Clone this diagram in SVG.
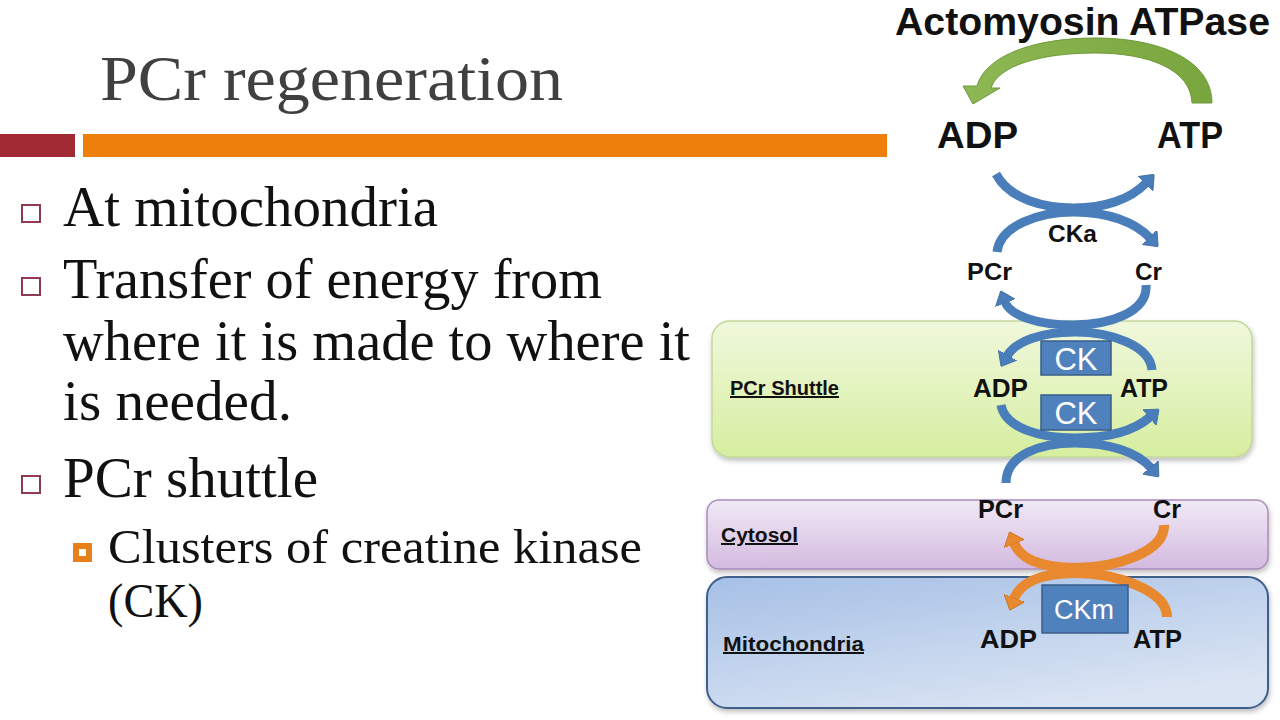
<svg xmlns="http://www.w3.org/2000/svg" width="1280" height="720" viewBox="0 0 1280 720">
<defs>
<style>
.title{font-family:"Liberation Serif","Times New Roman",serif;font-size:64px;fill:#404040}
.body{font-family:"Liberation Serif","Times New Roman",serif;font-size:56px;fill:#111}
.sub{font-family:"Liberation Serif","Times New Roman",serif;font-size:49px;fill:#111}
.lbl{font-family:"Liberation Sans",Arial,sans-serif;font-weight:bold;fill:#111}
.zone{font-family:"Liberation Sans",Arial,sans-serif;font-weight:bold;font-size:20px;fill:#111;text-decoration:underline}
.ck{font-family:"Liberation Sans",Arial,sans-serif;fill:#fff;text-anchor:middle}
.ckbox{fill:#4F81BD;stroke:#385D8A;stroke-width:1.5}
.blue{fill:none;stroke:#4A7EBB;stroke-width:9}
.orange{fill:none;stroke:#E8892F;stroke-width:10}
.bul{fill:#fff;stroke:#8E3B50;stroke-width:2}
</style>
<linearGradient id="gGreen" x1="0" y1="0" x2="0" y2="1"><stop offset="0" stop-color="#F0F8DC"/><stop offset="1" stop-color="#D6EEA0"/></linearGradient>
<linearGradient id="gPurple" x1="0" y1="0" x2="0" y2="1"><stop offset="0" stop-color="#F1E9F5"/><stop offset="1" stop-color="#D3BAE0"/></linearGradient>
<linearGradient id="gBlue" x1="0" y1="0" x2="0.6" y2="1"><stop offset="0" stop-color="#A6C0E6"/><stop offset="1" stop-color="#DAE4F3"/></linearGradient>
<linearGradient id="gArrow" x1="0" y1="0" x2="1" y2="0"><stop offset="0" stop-color="#8DB853"/><stop offset="1" stop-color="#79A53E"/></linearGradient>
<filter id="sh" x="-5%" y="-10%" width="110%" height="130%"><feDropShadow dx="1" dy="3" stdDeviation="2.5" flood-color="#000" flood-opacity="0.25"/></filter>
<marker id="mb" viewBox="0 0 13 21" refX="1" refY="10.5" markerWidth="13" markerHeight="21" markerUnits="userSpaceOnUse" orient="auto"><path d="M0,0 L13,10.5 L0,21 Z" fill="#4A7EBB" stroke="#3B6AA0" stroke-width="0.8"/></marker>
<marker id="mo" viewBox="0 0 13 22" refX="1" refY="11" markerWidth="13" markerHeight="22" markerUnits="userSpaceOnUse" orient="auto"><path d="M0,0 L13,11 L0,22 Z" fill="#E8892F" stroke="#C8721F" stroke-width="0.8"/></marker>
</defs>
<rect width="1280" height="720" fill="#fff"/>

<g id="title">
<text class="title" x="100" y="100" textLength="463" lengthAdjust="spacingAndGlyphs">PCr regeneration</text>
<rect x="0" y="134" width="75" height="23" fill="#A12A35"/>
<rect x="83" y="134" width="804" height="23" fill="#EF7F0B"/>
</g>

<g id="bullets">
<rect class="bul" x="22" y="205" width="18" height="17"/>
<text class="body" x="63" y="226" textLength="375" lengthAdjust="spacingAndGlyphs">At mitochondria</text>
<rect class="bul" x="22" y="278" width="18" height="17"/>
<text class="body" x="63" y="298" textLength="539" lengthAdjust="spacingAndGlyphs">Transfer of energy from</text>
<text class="body" x="63" y="360" textLength="627" lengthAdjust="spacingAndGlyphs">where it is made to where it</text>
<text class="body" x="63" y="420" textLength="229" lengthAdjust="spacingAndGlyphs">is needed.</text>
<rect class="bul" x="22" y="476" width="18" height="17"/>
<text class="body" x="63" y="497" textLength="255" lengthAdjust="spacingAndGlyphs">PCr shuttle</text>
<rect x="73" y="543" width="19" height="19" fill="#E8801A"/>
<rect x="79" y="549" width="7" height="7" fill="#fff"/>
<text class="sub" x="108" y="563" textLength="534" lengthAdjust="spacingAndGlyphs">Clusters of creatine kinase</text>
<text class="sub" x="108" y="617" textLength="95" lengthAdjust="spacingAndGlyphs">(CK)</text>
</g>

<g id="zone-shuttle">
<rect x="712" y="321" width="540" height="136" rx="18" fill="url(#gGreen)" stroke="#C3D898" stroke-width="1.5" filter="url(#sh)"/>
<text class="zone" x="730" y="395" textLength="109" lengthAdjust="spacingAndGlyphs">PCr Shuttle</text>
</g>
<g id="zone-cytosol">
<rect x="707" y="500" width="561" height="69" rx="12" fill="url(#gPurple)" stroke="#A98CB8" stroke-width="1.5" filter="url(#sh)"/>
<text class="zone" x="721" y="542" textLength="77" lengthAdjust="spacingAndGlyphs">Cytosol</text>
</g>
<g id="zone-mito">
<rect x="707" y="577" width="561" height="131" rx="20" fill="url(#gBlue)" stroke="#3D5F8A" stroke-width="2" filter="url(#sh)"/>
<text class="zone" x="723" y="651" textLength="141" lengthAdjust="spacingAndGlyphs">Mitochondria</text>
</g>

<g id="connectors">
<path d="M1212,103 C1212,60 1160,38 1095,38 C1035,38 986,55 977,86 L963,86 L973,104 L1000,88 L991,88 C998,66 1040,53 1095,53 C1150,53 1191,70 1192,103 Z" fill="url(#gArrow)" stroke="#6E9A3A" stroke-width="1"/>
<path class="blue" marker-end="url(#mb)" d="M996,174 C1010,200 1045,208 1074,208 C1103,208 1130,200 1146,183"/>
<path class="blue" marker-end="url(#mb)" d="M997,252 C1000,225 1040,212 1074,212 C1108,212 1135,222 1150,238"/>
<path class="blue" marker-end="url(#mb)" d="M1146,285 C1148,312 1110,325 1073,325 C1036,325 1010,315 1005,302"/>
<path class="blue" marker-end="url(#mb)" d="M1152,370 C1150,345 1110,332 1075,332 C1040,332 1015,342 1007,356"/>
<path class="blue" marker-end="url(#mb)" d="M1001,405 C1005,428 1040,438 1075,438 C1110,438 1135,430 1150,417"/>
<path class="blue" marker-end="url(#mb)" d="M1006,483 C1006,455 1040,443 1075,443 C1110,443 1137,452 1151,468"/>
<path class="orange" marker-end="url(#mo)" d="M1164,525 C1165,552 1115,568 1075,568 C1040,568 1020,558 1014,543"/>
<path class="orange" marker-end="url(#mo)" d="M1167,617 C1167,590 1115,573 1075,573 C1040,573 1020,583 1014,599"/>
</g>

<g id="node-actomyosin"><text class="lbl" x="895" y="35" font-size="39" textLength="375" lengthAdjust="spacingAndGlyphs">Actomyosin ATPase</text></g>
<g id="node-adp-top"><text class="lbl" x="937" y="148" font-size="37" textLength="81" lengthAdjust="spacingAndGlyphs">ADP</text></g>
<g id="node-atp-top"><text class="lbl" x="1157" y="148" font-size="37" textLength="66" lengthAdjust="spacingAndGlyphs">ATP</text></g>
<g id="node-cka"><text class="lbl" x="1048" y="242" font-size="24" textLength="49" lengthAdjust="spacingAndGlyphs">CKa</text></g>
<g id="node-pcr-top"><text class="lbl" x="967" y="280" font-size="24" textLength="45" lengthAdjust="spacingAndGlyphs">PCr</text></g>
<g id="node-cr-top"><text class="lbl" x="1135" y="280" font-size="24" textLength="27" lengthAdjust="spacingAndGlyphs">Cr</text></g>
<g id="node-ck1"><rect class="ckbox" x="1041" y="341" width="70" height="34"/><text class="ck" x="1076" y="370" font-size="31">CK</text></g>
<g id="node-ck2"><rect class="ckbox" x="1041" y="395" width="70" height="35"/><text class="ck" x="1076" y="424" font-size="31">CK</text></g>
<g id="node-adp-shuttle"><text class="lbl" x="973" y="397" font-size="25" textLength="55" lengthAdjust="spacingAndGlyphs">ADP</text></g>
<g id="node-atp-shuttle"><text class="lbl" x="1120" y="397" font-size="25" textLength="48" lengthAdjust="spacingAndGlyphs">ATP</text></g>
<g id="node-pcr-cyt"><text class="lbl" x="978" y="518" font-size="25" textLength="45" lengthAdjust="spacingAndGlyphs">PCr</text></g>
<g id="node-cr-cyt"><text class="lbl" x="1153" y="518" font-size="25" textLength="28" lengthAdjust="spacingAndGlyphs">Cr</text></g>
<g id="node-ckm"><rect class="ckbox" x="1042" y="585" width="86" height="48"/><text class="ck" x="1084" y="619" font-size="27">CKm</text></g>
<g id="node-adp-mito"><text class="lbl" x="980" y="648" font-size="26" textLength="57" lengthAdjust="spacingAndGlyphs">ADP</text></g>
<g id="node-atp-mito"><text class="lbl" x="1133" y="648" font-size="26" textLength="49" lengthAdjust="spacingAndGlyphs">ATP</text></g>
</svg>
